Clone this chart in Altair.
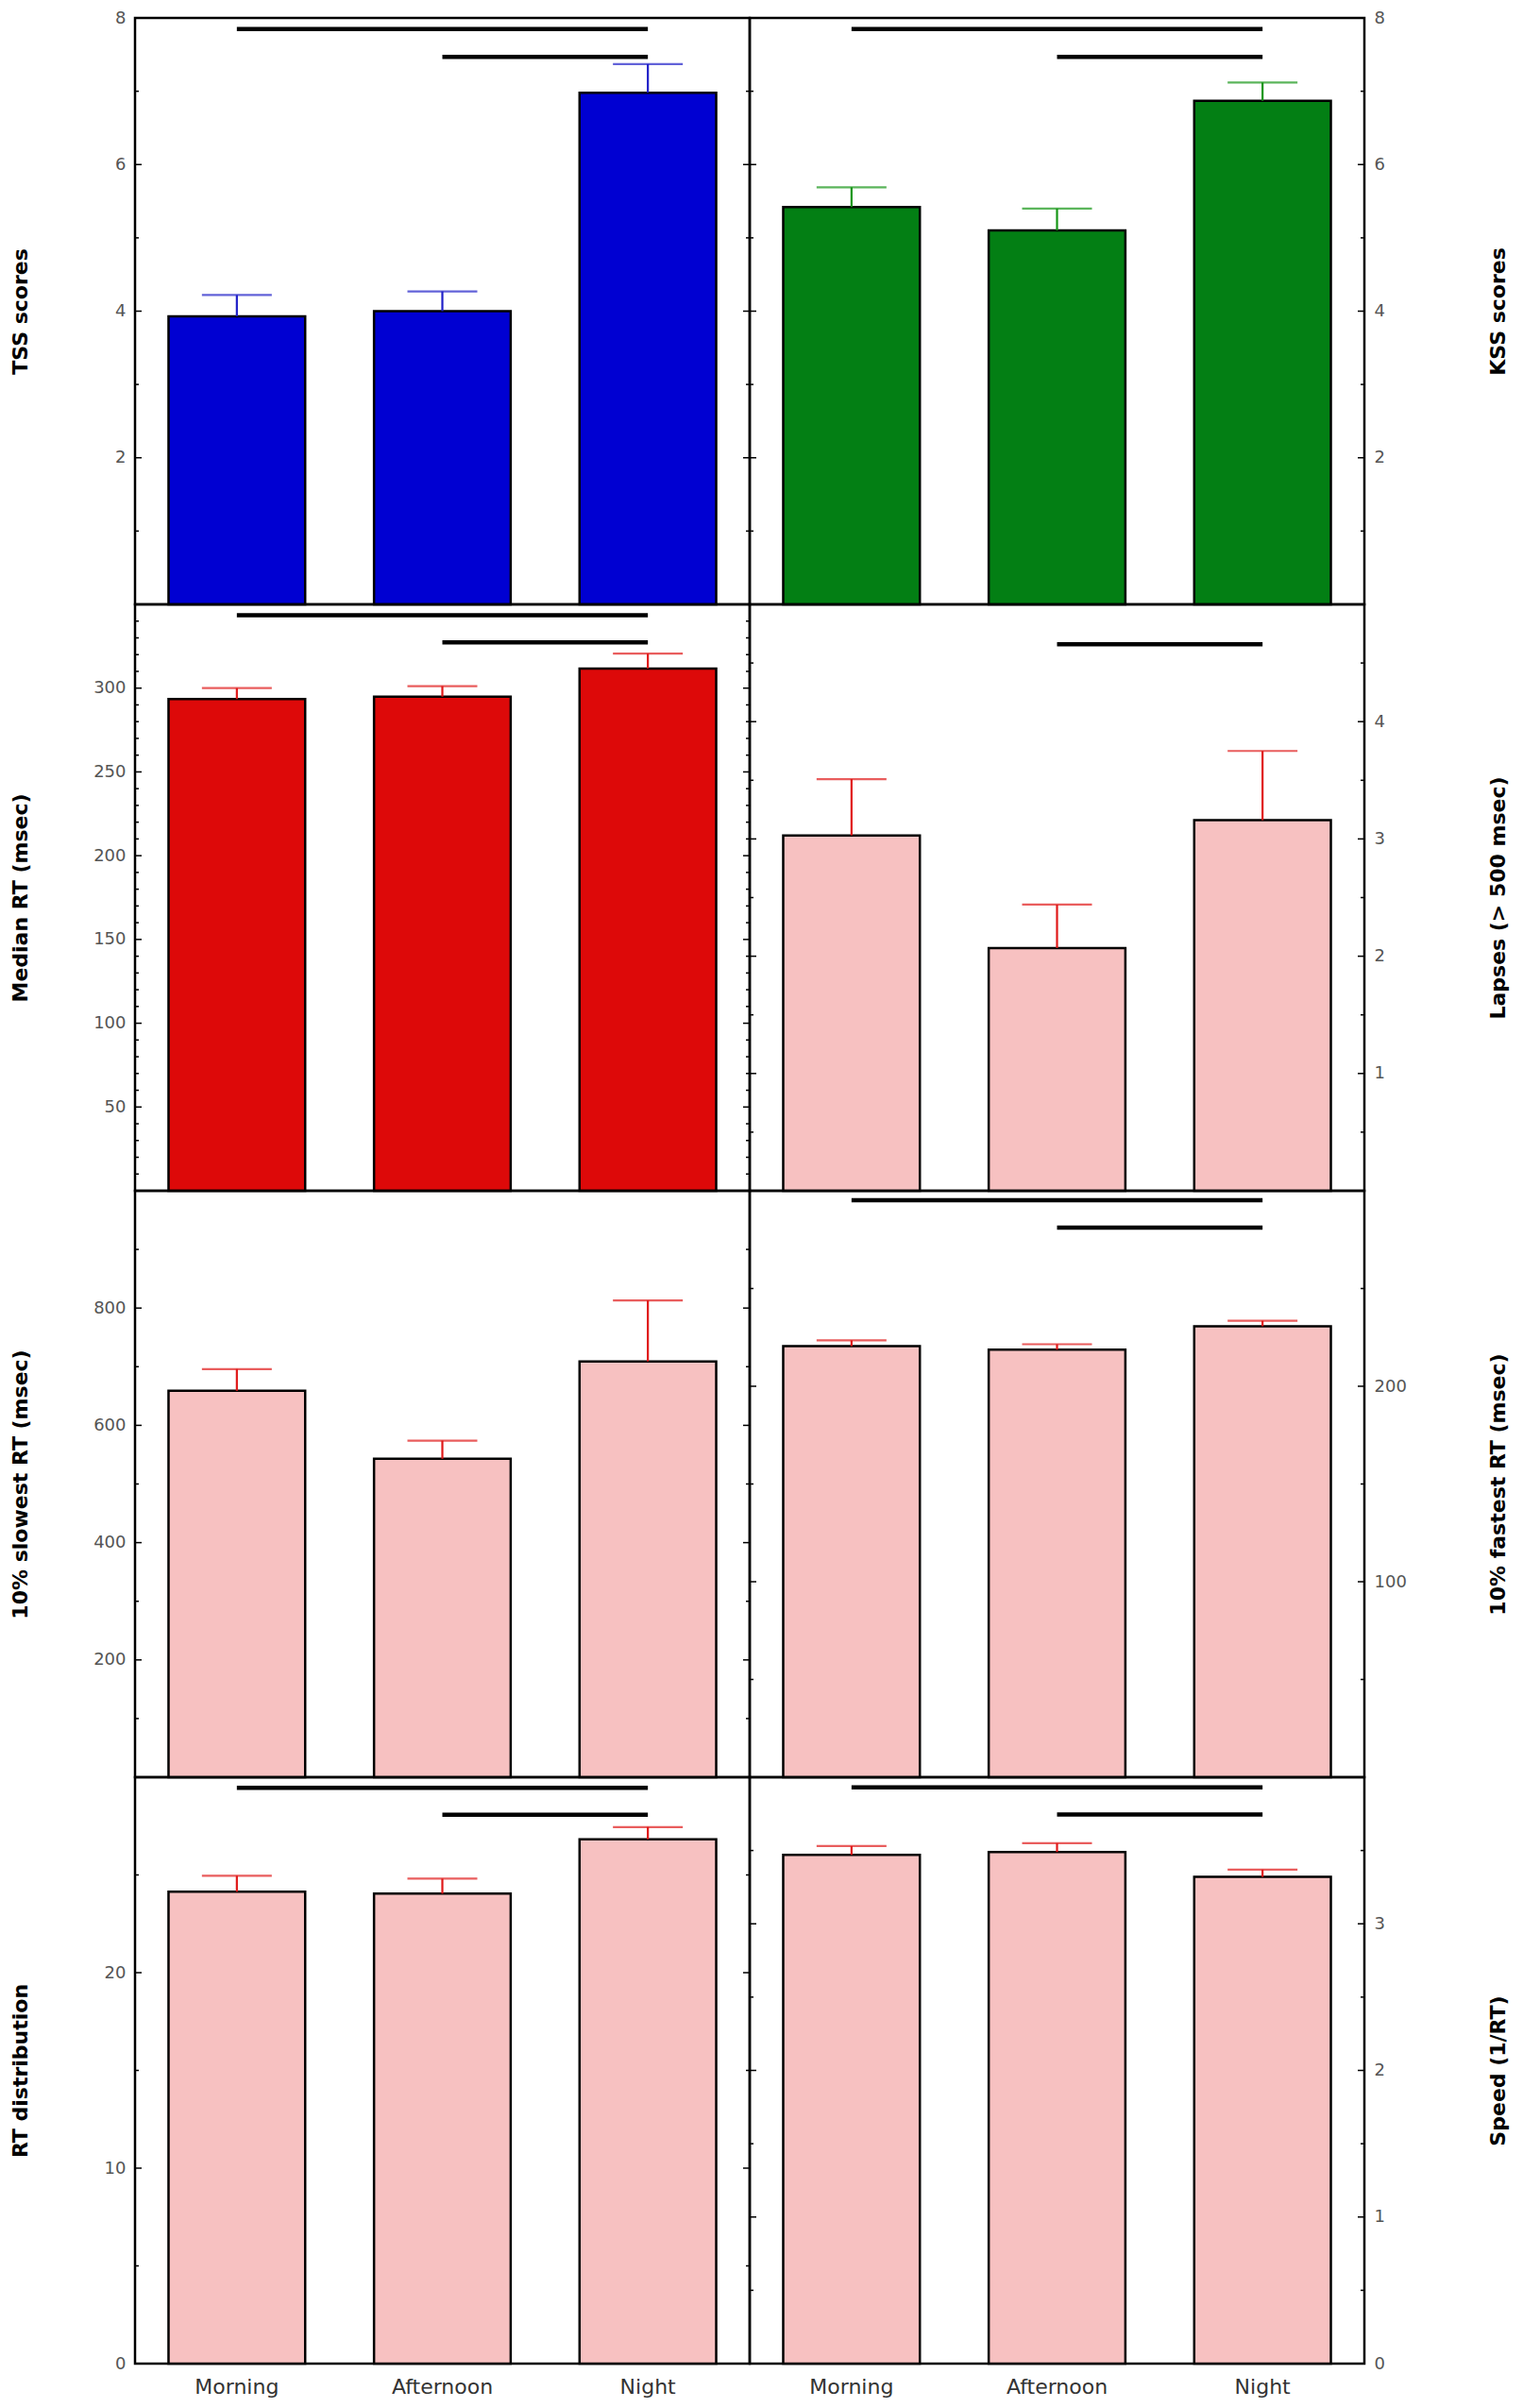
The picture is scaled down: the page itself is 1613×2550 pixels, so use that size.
import altair as alt
import numpy as np
import pandas as pd

categories = ["Morning", "Afternoon", "Night"]

tss_mean = [3.93, 4.00, 6.98]
tss_sem = [0.29, 0.27, 0.39]
kss_mean = [5.42, 5.10, 6.87]
kss_sem = [0.27, 0.30, 0.25]
median_mean = [293.5, 294.9, 311.7]
median_sem = [6.5, 6.3, 8.9]
lapses_mean = [3.03, 2.07, 3.16]
lapses_sem = [0.48, 0.37, 0.59]
slow_mean = [659, 543, 709]
slow_sem = [37, 31, 104]
fast_mean = [220.5, 218.7, 230.7]
fast_sem = [3.0, 2.8, 2.8]
dist_mean = [24.14, 24.04, 26.82]
dist_sem = [0.82, 0.77, 0.63]
speed_mean = [3.47, 3.49, 3.32]
speed_sem = [0.06, 0.06, 0.05]

# significance bars: (y value, from, to)
tss_sig = [(7.85, "Morning", "Night"), (7.47, "Afternoon", "Night")]
kss_sig = [(7.85, "Morning", "Night"), (7.47, "Afternoon", "Night")]
median_sig = [(343.5, "Morning", "Night"), (327.3, "Afternoon", "Night")]
lapses_sig = [(4.66, "Afternoon", "Night")]
slow_sig = []
fast_sig = [(295.2, "Morning", "Night"), (281.1, "Afternoon", "Night")]
dist_sig = [(29.46, "Morning", "Night"), (28.08, "Afternoon", "Night")]
speed_sig = [(3.93, "Morning", "Night"), (3.745, "Afternoon", "Night")]

W = 651
H = 621
FONT = "DejaVu Sans"


def panel(mean, sem, ymax, labels, major, minor, title, side, color, ecolor,
          sig, show_x):
    df = pd.DataFrame({"cat": categories, "mean": mean, "sem": sem})
    df["hi"] = df["mean"] + df["sem"]
    yscale = alt.Scale(domain=[0, ymax], nice=False, zero=True)
    xscale = alt.Scale(domain=categories, paddingInner=0.335, paddingOuter=0.163)

    if show_x:
        xaxis = alt.Axis(title=None, ticks=False, domain=False, labelAngle=0,
                         labelFontSize=22, labelPadding=14, labelColor="#333",
                         labelFont=FONT, grid=False)
    else:
        xaxis = None

    yaxis = alt.Axis(
        orient=side, values=labels, format="d", ticks=False, domain=False,
        grid=False, labelFontSize=18, labelColor="#555", labelFont=FONT,
        labelPadding=10,
        title=title, titleFontSize=22, titleFont=FONT, titleFontWeight="bold",
        titleColor="black", titleAngle=270, titleBaseline="middle",
        titleX=(-122 if side == "left" else 141),
    )

    base = alt.Chart(df)
    X = alt.X("cat:N", sort=categories, scale=xscale, axis=xaxis)
    Xn = alt.X("cat:N", sort=categories, scale=xscale)

    bars = base.mark_bar(color=color, stroke="black", strokeWidth=2.5).encode(
        x=X, y=alt.Y("mean:Q", scale=yscale, axis=yaxis))
    err = base.mark_rule(color=ecolor, strokeWidth=2.2).encode(
        x=Xn, y=alt.Y("mean:Q", scale=yscale), y2="hi:Q")
    caps = base.mark_tick(orient="horizontal", color=ecolor, size=74,
                          thickness=2.2).encode(
        x=Xn, y=alt.Y("hi:Q", scale=yscale))

    layers = [bars, err, caps]

    if sig:
        sdf = pd.DataFrame(sig, columns=["y", "s", "e"])
        sl = alt.Chart(sdf).mark_rule(color="black", strokeWidth=4.5).encode(
            x=alt.X("s:N", sort=categories, scale=xscale),
            x2="e:N",
            y=alt.Y("y:Q", scale=yscale))
        layers.append(sl)

    majors = [float(v) for v in np.arange(major, ymax, major) if v > 0]
    minors = [float(v) for v in np.arange(minor, ymax, minor)
              if v > 0 and abs(v / major - round(v / major)) > 1e-6]
    mj = pd.DataFrame({"v": majors})
    mn = pd.DataFrame({"v": minors})
    for tdf, ln in ((mj, 7), (mn, 4)):
        for x0, x1 in ((0, ln), (W, W - ln)):
            layers.append(
                alt.Chart(tdf).mark_rule(color="black", strokeWidth=1.5).encode(
                    y=alt.Y("v:Q", scale=yscale),
                    x=alt.value(x0), x2=alt.value(x1)))

    return alt.layer(*layers).properties(width=W, height=H)


blue, blue_e = "#0000D2", "#1F1FC8"
green, green_e = "#037F14", "#159515"
red, red_e = "#DD0909", "#E01818"
pink = "#F7C1C1"

panels = [
    panel(tss_mean, tss_sem, 8, [2, 4, 6, 8], 2, 1, "TSS scores", "left",
          blue, blue_e, tss_sig, False),
    panel(kss_mean, kss_sem, 8, [2, 4, 6, 8], 2, 1, "KSS scores", "right",
          green, green_e, kss_sig, False),
    panel(median_mean, median_sem, 350, [50, 100, 150, 200, 250, 300], 50, 10,
          "Median RT (msec)", "left", red, red_e, median_sig, False),
    panel(lapses_mean, lapses_sem, 5, [1, 2, 3, 4], 1, 0.5,
          "Lapses (> 500 msec)", "right", pink, red_e, lapses_sig, False),
    panel(slow_mean, slow_sem, 1000, [200, 400, 600, 800], 200, 100,
          "10% slowest RT (msec)", "left", pink, red_e, slow_sig, False),
    panel(fast_mean, fast_sem, 300, [100, 200], 100, 50,
          "10% fastest RT (msec)", "right", pink, red_e, fast_sig, False),
    panel(dist_mean, dist_sem, 30, [0, 10, 20], 10, 5,
          "RT distribution", "left", pink, red_e, dist_sig, True),
    panel(speed_mean, speed_sem, 4, [0, 1, 2, 3], 1, 0.5,
          "Speed (1/RT)", "right", pink, red_e, speed_sig, True),
]

chart = alt.concat(*panels, columns=2, spacing=0, bounds="flush").properties(
    padding=0
).configure(
    background="white",
    view=alt.ViewConfig(stroke="black", strokeWidth=2.5),
)

chart.save("out.html", embed_options={"renderer": "svg", "actions": False})
